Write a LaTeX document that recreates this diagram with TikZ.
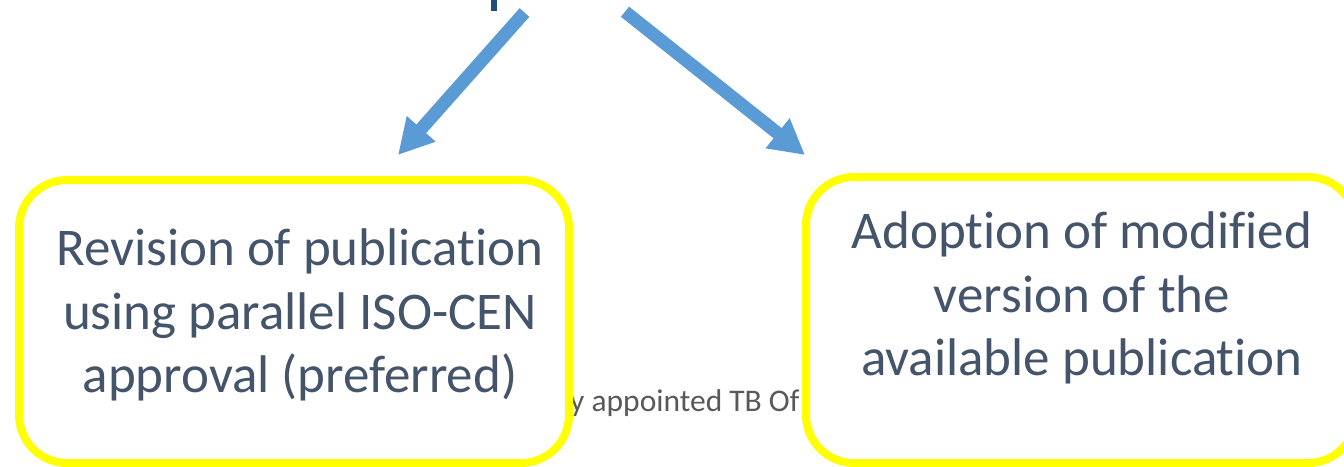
\documentclass[tikz,border=0pt]{standalone}
\usepackage{fontspec}
\setmainfont{Carlito}[Ligatures={NoCommon}]
\usetikzlibrary{arrows.meta}
\definecolor{arrowblue}{HTML}{5B9BD5}
\definecolor{boxyellow}{HTML}{FFFF00}
\definecolor{txtslate}{HTML}{44546A}
\definecolor{titleblue}{HTML}{1F4E79}
\definecolor{notegray}{HTML}{595959}
\begin{document}
\begin{tikzpicture}[x=1pt,y=-1pt,
  yellowbox/.style={draw=boxyellow, line width=8pt, fill=white, rounded corners=48pt, inner sep=0pt},
  boxtext/.style={text=txtslate, align=center, font=\fontsize{53}{63.5}\selectfont, inner sep=0pt},
  notetext/.style={text=notegray, font=\fontsize{31.5}{38}\selectfont, inner sep=0pt, anchor=base west},
  bigarrow/.style={draw=arrowblue, line width=13pt, -{Triangle[length=35pt,width=36pt]}},
]
\useasboundingbox (0,0) rectangle (1344,466);
\fill[white] (0,0) rectangle (1344,466);
% fragment of the cut-off title letter
\fill[titleblue] (491,0) rectangle (496.5,11);
% background note, partly hidden
\node[notetext] (note) at (570,411) {y appointed TB Of};
% boxes
\node[yellowbox, minimum width=550pt, minimum height=283pt] (boxL) at (294,321.5) {};
\node[yellowbox, minimum width=550pt, minimum height=286pt] (boxR) at (1081,320) {};
\node[boxtext] (txtL) at (300,315) {Revision of publication\\using parallel ISO-CEN\\approval (preferred)};
\node[boxtext] (txtR) at (1082,298) {Adoption of modified\\version of the\\available publication};
% arrows
\coordinate (srcL) at (524.5,12.5);
\coordinate (tipL) at (398,155);
\coordinate (srcR) at (625,11.7);
\coordinate (tipR) at (805,155);
\draw[bigarrow] (srcL) -- (tipL);
\draw[bigarrow] (srcR) -- (tipR);
\end{tikzpicture}
\end{document}
